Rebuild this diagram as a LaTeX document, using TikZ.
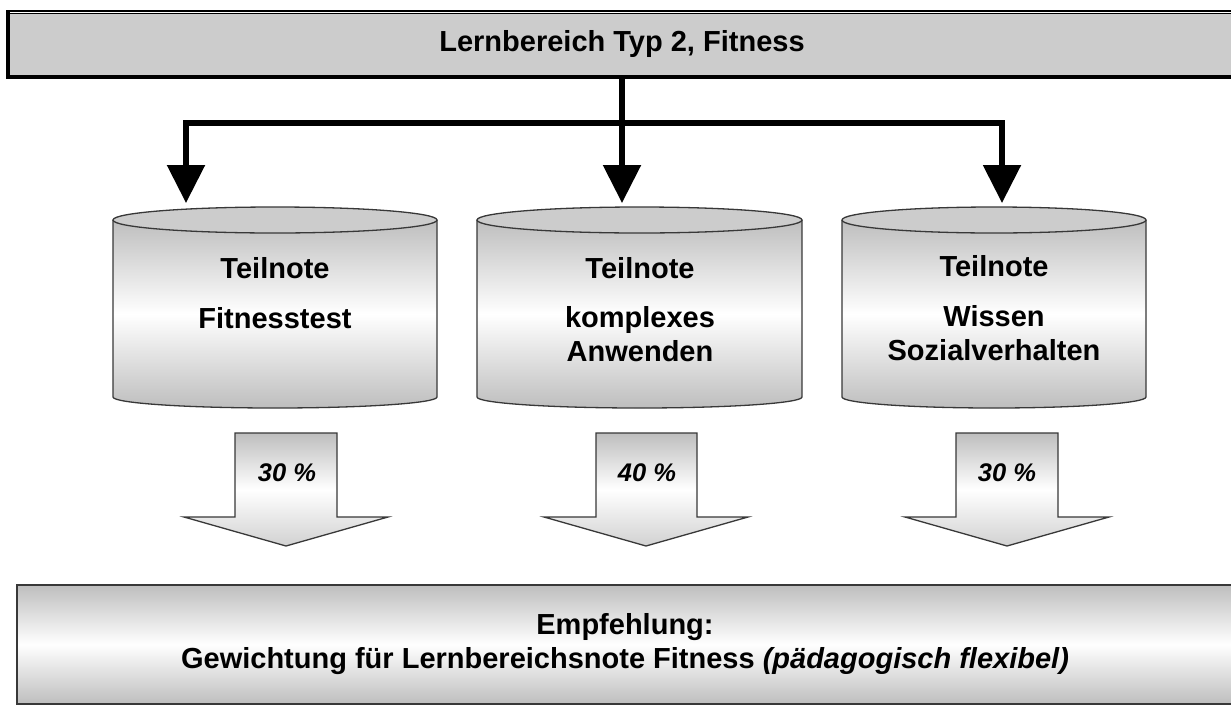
\documentclass[tikz,border=0pt]{standalone}
\usepackage{fontspec}
\setmainfont{Liberation Sans}
\usetikzlibrary{arrows.meta}
\definecolor{boxgray}{HTML}{CCCCCC}
\definecolor{edgegray}{HTML}{383838}
\definecolor{shadegray}{HTML}{BEBEBE}
\newcommand{\mycyl}[2]{%
  \pgfmathsetmacro{\myrx}{(#2-#1)/2}%
  \pgfmathsetmacro{\mycx}{(#1+#2)/2}%
  \shade[top color=shadegray, bottom color=shadegray, middle color=white]
    (#1,220) -- (#1,397) arc[start angle=180, end angle=360, x radius=\myrx pt, y radius=11pt] -- (#2,220) -- cycle;
  \draw[cylline] (#1,220) -- (#1,397) arc[start angle=180, end angle=360, x radius=\myrx pt, y radius=11pt] -- (#2,220);
  \draw[cylline, fill=boxgray] (\mycx,220) ellipse[x radius=\myrx pt, y radius=13pt];
}
\newcommand{\myblockarrow}[4]{% shaft left, shaft right, head left, head right
  \pgfmathsetmacro{\mytip}{(#3+#4)/2}%
  \shade[top color=shadegray, bottom color=shadegray!70, middle color=white]
    (#1,433) -- (#2,433) -- (#2,517) -- (#4,517) -- (\mytip,546) -- (#3,517) -- (#1,517) -- cycle;
  \draw[cylline, line join=miter]
    (#1,433) -- (#2,433) -- (#2,517) -- (#4,517) -- (\mytip,546) -- (#3,517) -- (#1,517) -- cycle;
}
\begin{document}
\begin{tikzpicture}[x=1pt, y=-1pt,
  cylline/.style={draw=edgegray, line width=1.3pt},
  lbl/.style={font=\fontsize{29}{34}\selectfont\bfseries, inner sep=0pt, anchor=base},
  pct/.style={font=\fontsize{25.5}{30}\selectfont\bfseries\itshape, inner sep=0pt, anchor=base},
  conn/.style={line width=5.5pt, line join=miter, -{Triangle[width=37pt, length=38pt]}}
  ]
\useasboundingbox (0,0) rectangle (1231,707);

% title box
\fill[boxgray] (10,13) rectangle (1234,75);
\fill[black] (6,10) rectangle (10,79);
\fill[black] (6,75) rectangle (1234,79);
\fill[black] (6,10) rectangle (1234,12);
\fill[black] (10,13.3) rectangle (1234,14.4);
\node[font=\fontsize{29}{34}\selectfont\bfseries, minimum width=1224pt, minimum height=65pt, inner sep=0pt]
  (title) at (622,44.5) {Lernbereich Typ 2, Fitness};

% cylinders
\mycyl{113}{437}
\mycyl{477}{802}
\mycyl{842}{1146}

\node[lbl] (c1a) at (275,278) {Teilnote};
\node[lbl] (c1b) at (275,328) {Fitnesstest};
\node[lbl] (c2a) at (640,278) {Teilnote};
\node[lbl] (c2b) at (640,327) {komplexes};
\node[lbl] (c2c) at (640,361) {Anwenden};
\node[lbl] (c3a) at (994,276) {Teilnote};
\node[lbl] (c3b) at (994,326) {Wissen};
\node[lbl] (c3c) at (994,360) {Sozialverhalten};

% connectors
\coordinate (j) at (622,123);
\coordinate (t1) at (186,203);
\coordinate (t2) at (622,203);
\coordinate (t3) at (1002,203);
\draw[conn] (j) -| (t1);
\draw[conn] (j) -| (t3);
\draw[conn] (title.south) -- (t2);

% block arrows
\myblockarrow{235}{337}{184}{388}
\myblockarrow{596}{697}{544}{748}
\myblockarrow{956}{1058}{905}{1109}
\node[pct] (p1) at (287,481) {30 \%};
\node[pct] (p2) at (647,481) {40 \%};
\node[pct] (p3) at (1007,481) {30 \%};

% bottom box
\node[draw=edgegray, line width=1.2pt, top color=shadegray, bottom color=shadegray, middle color=white,
  minimum width=1216pt, minimum height=119pt, inner sep=0pt, align=center,
  font=\fontsize{29}{34}\selectfont\bfseries]
  (emp) at (625,644.5) {Empfehlung:\\Gewichtung für Lernbereichsnote Fitness \textit{(pädagogisch flexibel)}};
\end{tikzpicture}
\end{document}
